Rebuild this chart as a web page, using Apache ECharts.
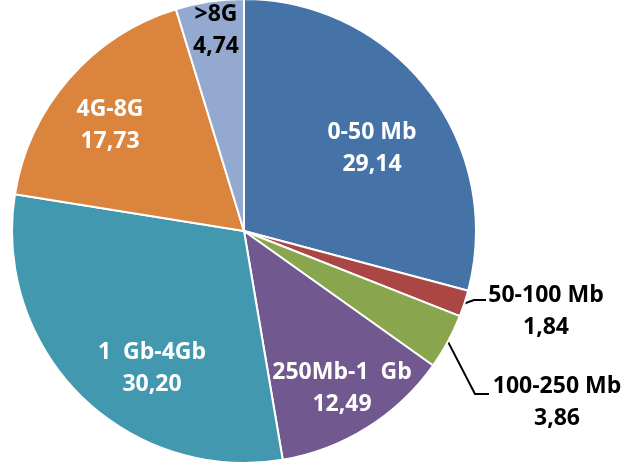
<!DOCTYPE html>
<html><head><meta charset="utf-8">
<script src="https://cdn.jsdelivr.net/npm/echarts@6/dist/echarts.min.js"></script>
<style>html,body{margin:0;padding:0;background:#fff}#c{width:627px;height:468px}</style>
</head><body><div id="c"></div>
<script>
const categories = ['0-50 Mb', '50-100 Mb', '100-250 Mb', '250Mb-1  Gb', '1  Gb-4Gb', '4G-8G', '>8G'];
const values = [29.14, 1.84, 3.86, 12.49, 30.20, 17.73, 4.74];
const valueLabels = ['29,14', '1,84', '3,86', '12,49', '30,20', '17,73', '4,74'];
const colors = ['#4572A7', '#AA4643', '#89A54E', '#71588F', '#4198AF', '#DB843D', '#93A9CF'];
const textColors = ['#fff', '#000', '#000', '#fff', '#fff', '#fff', '#000'];
const outside = [false, true, true, false, false, false, false];

// label anchor positions (layout only)
const labelPos = [[372,148],[546,311],[557,402],[342,388],[152,368],[110,125],[216,30]];
const linePts = {1: [[474,300],[486,300]], 2: [[475,394],[489,394]]};

const chart = echarts.init(document.getElementById('c'));
chart.setOption({
  animation: false,
  series: [{
    type: 'pie',
    center: [244, 231],
    radius: 232,
    startAngle: 90,
    clockwise: true,
    itemStyle: { borderColor: '#fff', borderWidth: 2 },
    label: {
      fontFamily: 'Open Sans', fontWeight: 'bold', fontSize: 23, lineHeight: 32,
      align: 'center',
      formatter: p => categories[p.dataIndex] + '\n' + valueLabels[p.dataIndex]
    },
    labelLine: { lineStyle: { color: '#000', width: 2 }, length: 10, length2: 10 },
    labelLayout: function (p) {
      const i = p.dataIndex;
      const r = { x: labelPos[i][0], y: labelPos[i][1], align: 'center', verticalAlign: 'middle' };
      if (linePts[i] && p.labelLinePoints) {
        const pts = p.labelLinePoints;
        r.labelLinePoints = [pts[0], linePts[i][0], linePts[i][1]];
      }
      return r;
    },
    data: categories.map((c, i) => ({
      name: c, value: values[i],
      itemStyle: { color: colors[i] },
      label: { position: outside[i] ? 'outside' : 'inside', color: textColors[i] },
      labelLine: { show: outside[i] }
    }))
  }]
});
</script></body></html>
